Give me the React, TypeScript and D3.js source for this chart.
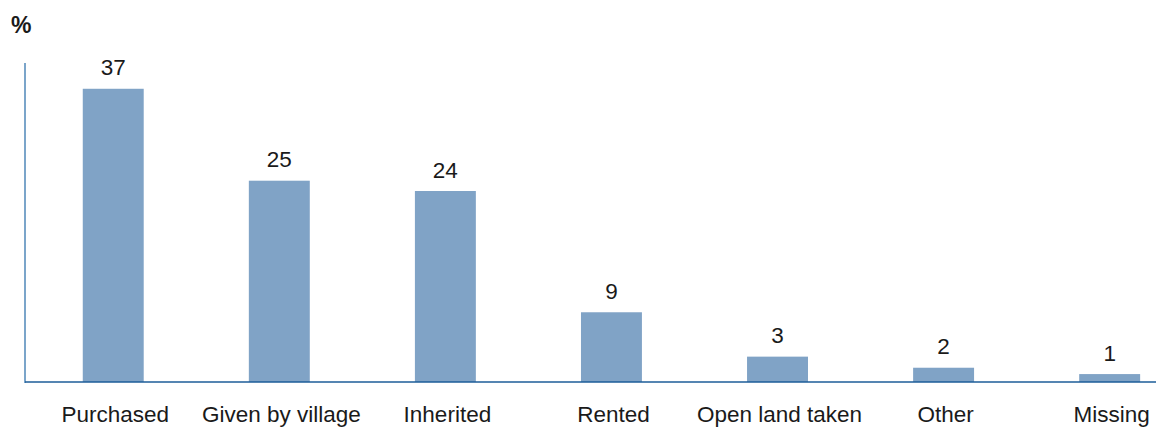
import React from "react";
import * as d3 from "d3";

const categories = ["Purchased", "Given by village", "Inherited", "Rented", "Open land taken", "Other", "Missing"];
const values = [37.0, 25.4, 24.1, 8.8, 3.2, 1.8, 1.0];
const yMax = 40;
const unitLabel = "%";

const W = 1156;
const H = 428;
const baseY = 382;
const axisX = 25;
const FONT = "'Liberation Sans', Arial, Helvetica, sans-serif";

export default function App() {
  const x = d3
    .scaleBand<string>()
    .domain(categories)
    .range([30.2, 1192.7])
    .paddingInner(0.633)
    .paddingOuter(0.3165);
  const y = d3.scaleLinear().domain([0, yMax]).range([baseY, 65]);
  const fmt = d3.format(".0f");

  return (
    <svg
      width={W}
      height={H}
      style={{ position: "absolute", left: 0, top: 0, background: "#fff" }}
      fontFamily={FONT}
    >
      <text x={11} y={33} fontSize={23} fontWeight="bold" fill="#1a1a1a">
        {unitLabel}
      </text>
      {categories.map((c, i) => (
        <g key={c}>
          <rect
            x={x(c)!}
            y={y(values[i])}
            width={x.bandwidth()}
            height={baseY - y(values[i])}
            fill="#80a3c6"
          />
          <text
            x={x(c)! + x.bandwidth() / 2}
            y={y(values[i]) - 13.5}
            textAnchor="middle"
            fontSize={22.5}
            fill="#1a1a1a"
          >
            {fmt(values[i])}
          </text>
          <text
            x={x(c)! + x.bandwidth() / 2 + 2}
            y={422}
            textAnchor="middle"
            fontSize={22.5}
            fill="#1a1a1a"
          >
            {c}
          </text>
        </g>
      ))}
      <line x1={axisX} x2={axisX} y1={63} y2={baseY + 1} stroke="#4f87b8" strokeWidth={1.5} />
      <line x1={axisX} x2={W} y1={baseY} y2={baseY} stroke="#1d5d99" strokeWidth={1.6} />
    </svg>
  );
}
